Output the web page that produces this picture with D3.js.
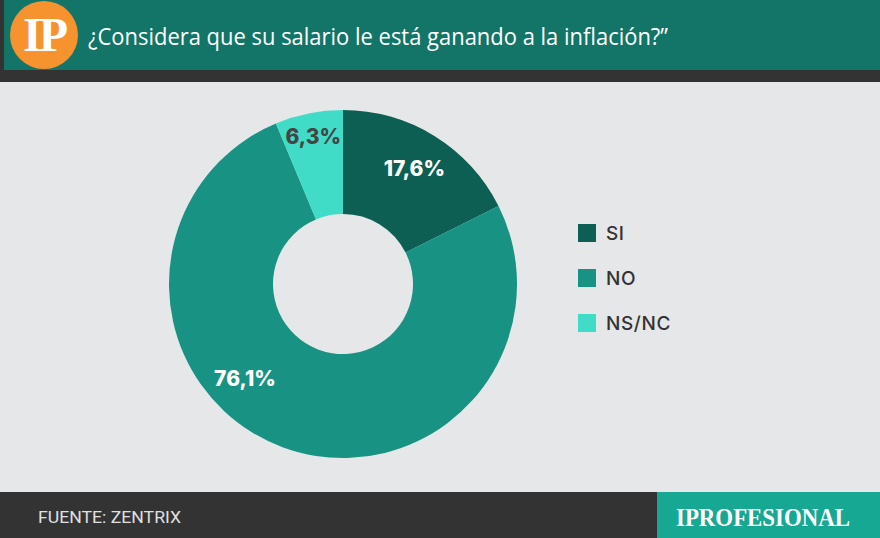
<!DOCTYPE html>
<html><head><meta charset="utf-8">
<script src="https://cdn.jsdelivr.net/npm/d3@7"></script>
<style>html,body{margin:0;padding:0;background:#e6e7e8;}svg{display:block;}</style>
</head><body>
<script>
const categories = ["SI", "NO", "NS/NC"];
const values = [17.6, 76.1, 6.3];
const labels = ["17,6%", "76,1%", "6,3%"];
const colors = ["#0d5f53", "#189383", "#40dcc7"];
const labelColors = ["#ffffff", "#ffffff", "#454545"];
const title = "¿Considera que su salario le está ganando a la inflación?”";
const source = "FUENTE: ZENTRIX";
const brand = "IPROFESIONAL";

const W = 880, H = 538;
const svg = d3.select("body").append("svg").attr("width", W).attr("height", H);

svg.append("rect").attr("width", W).attr("height", H).attr("fill", "#e6e7e8");
// header
svg.append("rect").attr("width", W).attr("height", 82).attr("fill", "#333333");
svg.append("rect").attr("x", 4).attr("width", W - 4).attr("height", 70).attr("fill", "#127567");
svg.append("circle").attr("cx", 44).attr("cy", 35).attr("r", 34).attr("fill", "#f6932f");
svg.append("text").attr("x", 44).attr("y", 51).attr("text-anchor", "middle")
  .attr("font-family", "Liberation Serif, serif").attr("font-weight", "bold")
  .attr("font-size", 48).attr("fill", "#fff").attr("letter-spacing", -3).text("IP");
svg.append("text").attr("x", 88).attr("y", 45)
  .attr("font-family", "Open Sans, sans-serif").attr("font-size", 23)
  .attr("fill", "#fff").attr("textLength", 580).attr("lengthAdjust", "spacingAndGlyphs").text(title);

// footer
svg.append("rect").attr("y", 492).attr("width", W).attr("height", H - 492).attr("fill", "#333333");
svg.append("rect").attr("x", 657).attr("y", 492).attr("width", W - 657).attr("height", H - 492).attr("fill", "#17a893");
svg.append("text").attr("x", 38).attr("y", 523)
  .attr("font-family", "Roboto, sans-serif").attr("font-size", 17)
  .attr("fill", "#e0e0e0").attr("textLength", 143).attr("lengthAdjust", "spacingAndGlyphs").text(source);
svg.append("text").attr("x", 676).attr("y", 526)
  .attr("font-family", "Liberation Serif, serif").attr("font-weight", "bold").attr("font-size", 25)
  .attr("fill", "#fff").attr("textLength", 174).attr("lengthAdjust", "spacingAndGlyphs").text(brand);

// pie
const cx = 343, cy = 284, rOuter = 174, rInner = 70;
const data = categories.map((c, i) => ({cat: c, value: values[i], label: labels[i], i}));
const pie = d3.pie().value(d => d.value).sort(null);
const arcs = pie(data);
const arc = d3.arc().innerRadius(rInner).outerRadius(rOuter);
const g = svg.append("g").attr("transform", `translate(${cx},${cy})`);
g.selectAll("path").data(arcs).join("path").attr("d", arc).attr("fill", d => colors[d.data.i]);

// label placement: radius and angle shift per slice
const labelRadius = [136, 136, 151];
const labelAngleShift = [0, 0.45, 0];
g.selectAll("text.lbl").data(arcs).join("text").attr("class", "lbl")
  .attr("transform", d => {
    const a = (d.startAngle + d.endAngle) / 2 + labelAngleShift[d.data.i];
    const r = labelRadius[d.data.i];
    return `translate(${r * Math.sin(a)},${-r * Math.cos(a)})`;
  })
  .attr("text-anchor", "middle").attr("dy", "0.36em")
  .attr("font-family", "Inter, Lato, sans-serif").attr("font-weight", 800).attr("font-size", 21)
  .attr("fill", d => labelColors[d.data.i]).text(d => d.data.label);

// legend
const legend = svg.append("g").attr("transform", "translate(578,224)");
const items = legend.selectAll("g").data(data).join("g").attr("transform", (d, i) => `translate(0,${i * 45})`);
items.append("rect").attr("width", 18).attr("height", 18).attr("fill", d => colors[d.i]);
items.append("text").attr("x", 28).attr("y", 9).attr("dy", "0.36em")
  .attr("font-family", "Inter, sans-serif").attr("font-weight", 500).attr("font-size", 19)
  .attr("letter-spacing", 0.6).attr("fill", "#333").text(d => d.cat);
</script>
</body></html>
